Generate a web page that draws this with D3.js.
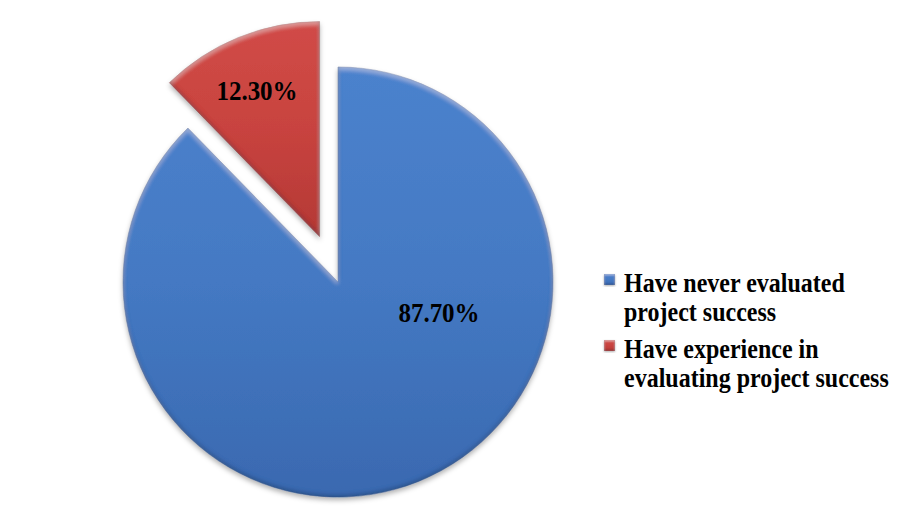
<!DOCTYPE html>
<html>
<head>
<meta charset="utf-8">
<script src="https://cdn.jsdelivr.net/npm/d3@7"></script>
<style>
  html, body { margin: 0; padding: 0; background: #ffffff; }
  svg { display: block; }
</style>
</head>
<body>
<svg id="chart" width="908" height="522"></svg>
<script>
// Survey result: share of respondents by evaluation experience
const categories = ["Have never evaluated project success", "Have experience in evaluating project success"];
const values = [87.7, 12.3];
const valueLabels = ["87.70%", "12.30%"];
const legendLines = [["Have never evaluated", "project success"], ["Have experience in", "evaluating project success"]];
const palette = [
  { top: "#4b82cd", mid: "#4479c3", bottom: "#3a69b0", edge: "#2f5a99" },
  { top: "#d14b47", mid: "#c8433f", bottom: "#b43935", edge: "#9a2f2c" }
];

const svg = d3.select("#chart");
const cx = 338, cy = 282, radius = 215;
const explode = [0, 49];

const defs = svg.append("defs");

// per-slice vertical gradient
palette.forEach((p, i) => {
  const g = defs.append("linearGradient")
    .attr("id", "grad" + i)
    .attr("x1", 0).attr("y1", 0).attr("x2", 0).attr("y2", 1);
  g.append("stop").attr("offset", "0%").attr("stop-color", p.top);
  g.append("stop").attr("offset", "50%").attr("stop-color", p.mid);
  g.append("stop").attr("offset", "100%").attr("stop-color", p.bottom);
});

// soft bevel with inner rims and an outer drop shadow
function bevelFilter(id, blur, off, shadowBlur, shadowDy, lightOp, darkOp) {
  const f = defs.append("filter").attr("id", id)
    .attr("x", "-10%").attr("y", "-10%").attr("width", "120%").attr("height", "125%");
  f.append("feGaussianBlur").attr("in", "SourceAlpha").attr("stdDeviation", shadowBlur).attr("result", "sb");
  f.append("feOffset").attr("in", "sb").attr("dy", shadowDy).attr("result", "so");
  f.append("feFlood").attr("flood-color", "#000").attr("flood-opacity", 0.3).attr("result", "sc");
  f.append("feComposite").attr("in", "sc").attr("in2", "so").attr("operator", "in").attr("result", "shadow");

  const ct = f.append("feComponentTransfer").attr("in", "SourceAlpha").attr("result", "inv");
  ct.append("feFuncA").attr("type", "table").attr("tableValues", "1 0");
  f.append("feGaussianBlur").attr("in", "inv").attr("stdDeviation", blur).attr("result", "ib");

  f.append("feOffset").attr("in", "ib").attr("dy", -off).attr("result", "dOff");
  f.append("feFlood").attr("flood-color", "#0d1a33").attr("flood-opacity", darkOp).attr("result", "dc");
  f.append("feComposite").attr("in", "dc").attr("in2", "dOff").attr("operator", "in").attr("result", "d1");
  f.append("feComposite").attr("in", "d1").attr("in2", "SourceAlpha").attr("operator", "in").attr("result", "dark");

  f.append("feOffset").attr("in", "ib").attr("dy", off).attr("result", "lOff");
  f.append("feFlood").attr("flood-color", "#ffffff").attr("flood-opacity", lightOp).attr("result", "lc");
  f.append("feComposite").attr("in", "lc").attr("in2", "lOff").attr("operator", "in").attr("result", "l1");
  f.append("feComposite").attr("in", "l1").attr("in2", "SourceAlpha").attr("operator", "in").attr("result", "light");

  const m = f.append("feMerge");
  m.append("feMergeNode").attr("in", "shadow");
  m.append("feMergeNode").attr("in", "SourceGraphic");
  m.append("feMergeNode").attr("in", "light");
  m.append("feMergeNode").attr("in", "dark");
}
bevelFilter("bevel", 2, 2.5, 2.5, 3, 0.3, 0.5);
bevelFilter("bevelSmall", 1, 1, 0.8, 1, 0.45, 0.5);

const pie = d3.pie().sort(null).value(d => d)(values);
const arc = d3.arc().innerRadius(0).outerRadius(radius);

const g = svg.append("g").attr("transform", `translate(${cx},${cy})`);

const slices = g.selectAll("g.slice")
  .data(pie)
  .join("g")
  .attr("class", "slice")
  .attr("transform", (d, i) => {
    const a = (d.startAngle + d.endAngle) / 2;
    return `translate(${Math.sin(a) * explode[i]},${-Math.cos(a) * explode[i]})`;
  });

slices.append("path")
  .attr("d", arc)
  .attr("fill", (d, i) => `url(#grad${i})`)
  .attr("stroke", (d, i) => palette[i].edge)
  .attr("stroke-opacity", 0.5)
  .attr("stroke-width", 0.8)
  .attr("filter", "url(#bevel)");

// value labels
const labelPos = [
  { x: 439, y: 322 },
  { x: 257, y: 100 }
];
svg.selectAll("text.val")
  .data(valueLabels)
  .join("text")
  .attr("class", "val")
  .attr("transform", (d, i) => `translate(${labelPos[i].x},${labelPos[i].y}) scale(1,1.05)`)
  .attr("text-anchor", "middle")
  .attr("font-family", "'Liberation Serif', 'Times New Roman', serif")
  .attr("font-weight", "bold")
  .attr("font-size", 25)
  .attr("fill", "#000")
  .text(d => d);

// legend
const legend = svg.append("g").attr("transform", "translate(604,0)");
const legendRows = [292, 358];
const lineGap = 29;
const items = legend.selectAll("g.item")
  .data(categories)
  .join("g")
  .attr("class", "item")
  .attr("transform", (d, i) => `translate(0,${legendRows[i]})`);

items.append("rect")
  .attr("x", 0).attr("y", -18)
  .attr("width", 11).attr("height", 11)
  .attr("fill", (d, i) => `url(#grad${i})`)
  .attr("filter", "url(#bevelSmall)");

items.each(function(d, i) {
  legendLines[i].forEach((line, k) => {
    d3.select(this).append("text")
      .attr("transform", `translate(20,${k * lineGap}) scale(1,1.1)`)
      .attr("font-family", "'Liberation Serif', 'Times New Roman', serif")
      .attr("font-weight", "bold")
      .attr("font-size", 24)
      .attr("fill", "#000")
      .text(line);
  });
});
</script>
</body>
</html>
